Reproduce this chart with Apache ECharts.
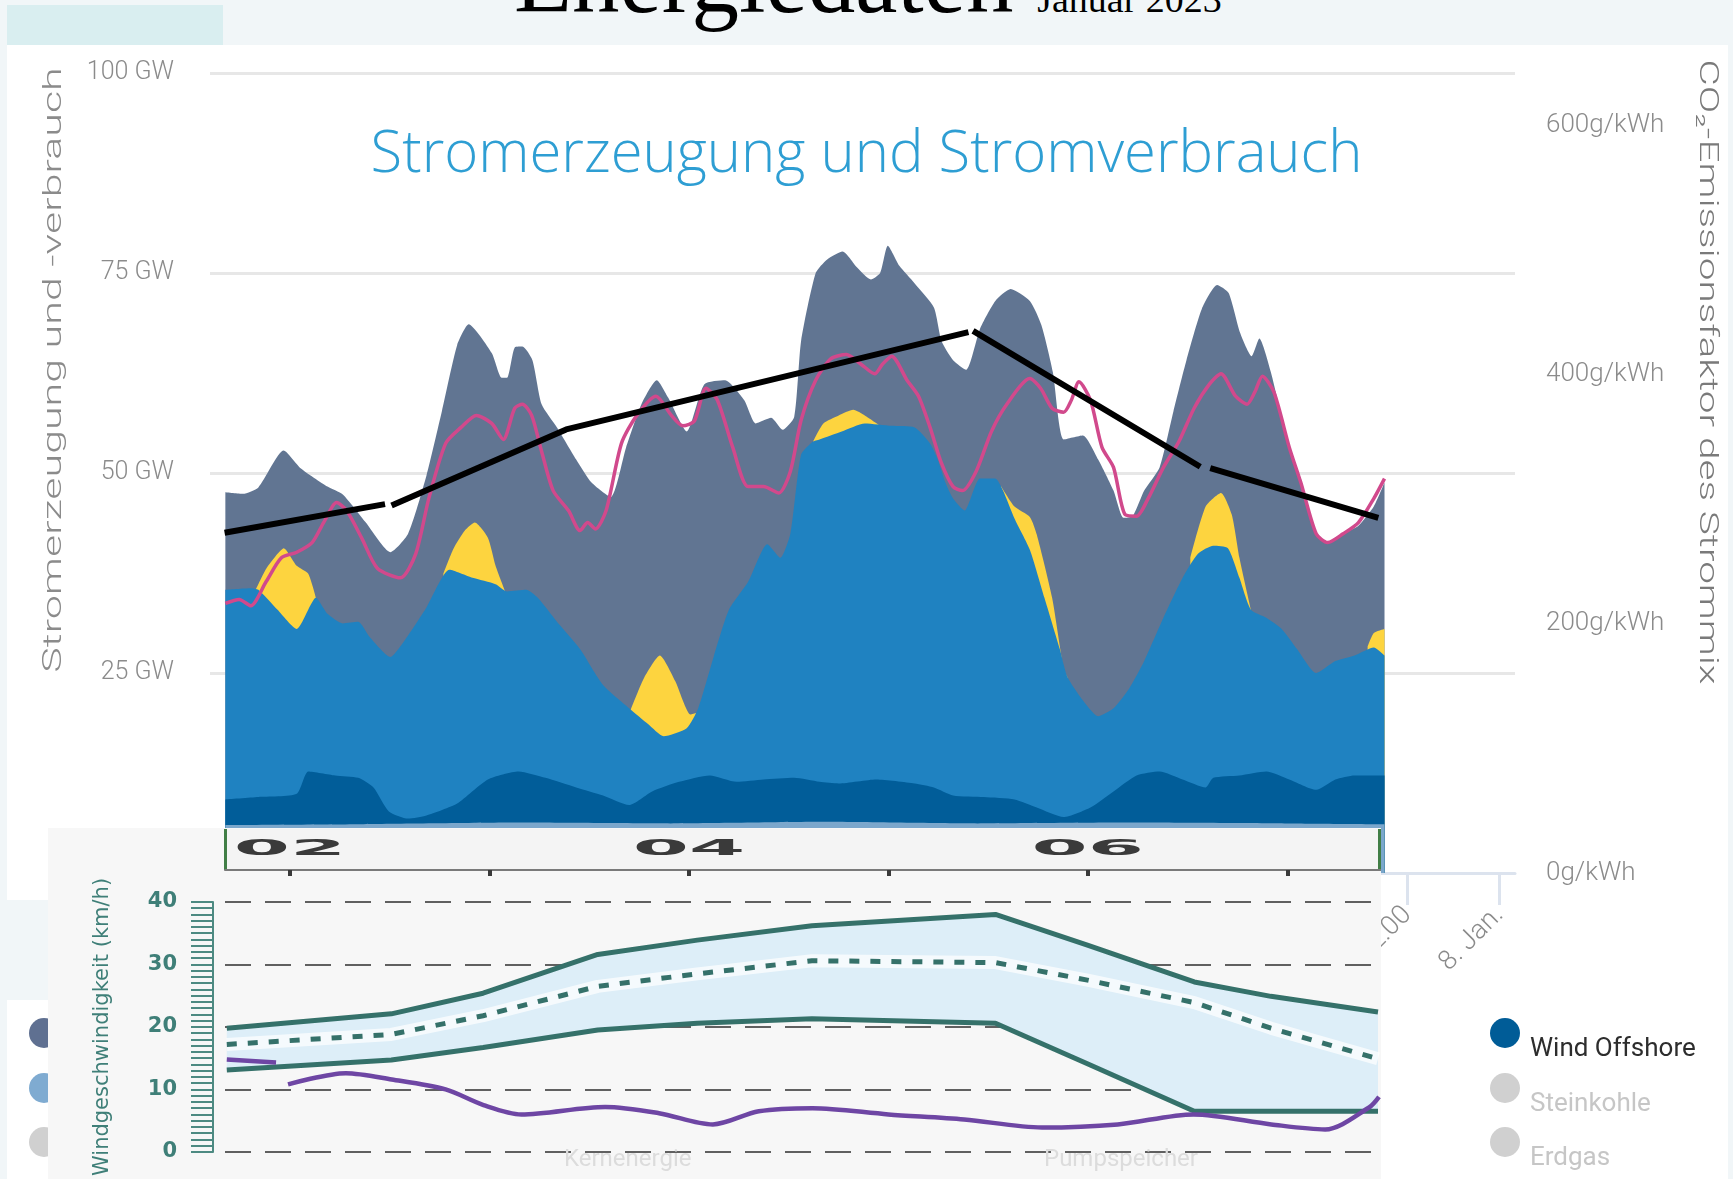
<!DOCTYPE html>
<html lang="de">
<head>
<meta charset="utf-8">
<title>Energiedaten Januar 2023</title>
<script src="https://cdn.jsdelivr.net/npm/echarts@6/dist/echarts.min.js"></script>
<style>
  html, body { margin: 0; padding: 0; width: 1733px; height: 1179px; overflow: hidden; background: #f1f6f8; }
  #kopf { position: absolute; left: 0; top: 0; width: 1733px; height: 45px; background: #f1f6f8; overflow: hidden; }
  #kachel { position: absolute; left: 7px; top: 5px; width: 216px; height: 40px; background: #d9eef0; }
  #titel { position: absolute; left: 514px; top: -67px; font: 95px/95px "Liberation Serif", serif; color: #000; white-space: nowrap; }
  #titel span { font-size: 38px; line-height: 38px; }
  #panel { position: absolute; left: 7px; top: 45px; width: 1721px; height: 1134px; background: #fff; }
  #kerbe { position: absolute; left: 0; top: 900px; width: 48px; height: 100px; background: #f1f6f8; }
  #haupt { position: absolute; left: 0; top: 0; width: 1733px; height: 1179px; }
  #wind { position: absolute; left: 48px; top: 828px; width: 1333px; height: 351px; background: #f7f7f7; }
</style>
</head>
<body>
<div id="kopf"><div id="kachel"></div><div id="titel">Energiedaten <span>Januar 2023</span></div></div>
<div id="panel"></div>
<div id="kerbe"></div>
<div id="haupt"></div>
<div id="wind"></div>
<script>
// Stunden ab 1. Jan. 00:00, Werte in GW (Oberkanten der gestapelten Flächen)
const gesamtLeistung = [[2.0,47.6],[4.3,47.4],[6.3,48.2],[9.6,52.8],[11.8,50.6],[15.3,48.3],[17.3,47.3],[20.3,43.8],[23.5,40.1],[25.8,42.4],[28.2,49.7],[30.2,57.7],[32.2,66.0],[33.7,68.6],[36.7,65.0],[38.0,61.9],[38.7,61.9],[39.7,65.7],[40.7,65.8],[42.0,64.1],[43.2,58.6],[45.2,55.7],[47.7,51.7],[49.7,48.8],[52.2,47.0],[54.2,53.2],[56.2,58.6],[58.2,61.6],[59.7,59.4],[62.1,55.2],[64.4,61.1],[67.1,61.6],[69.6,59.1],[71.1,56.2],[73.1,56.9],[74.6,55.4],[76.1,57.0],[77.0,66.5],[78.9,75.0],[80.4,76.7],[82.4,77.7],[84.3,75.7],[86.1,74.2],[87.3,75.0],[88.3,78.4],[89.8,75.9],[91.8,73.7],[94.3,70.7],[95.3,66.5],[96.8,64.1],[98.5,62.9],[100.3,68.0],[102.3,71.5],[104.3,73.0],[106.8,71.5],[108.3,68.5],[109.8,62.6],[111.2,54.2],[113.7,54.7],[115.7,51.7],[117.7,47.8],[119.0,44.4],[120.2,44.6],[121.7,47.8],[123.7,50.7],[125.5,57.7],[127.2,64.1],[129.2,70.5],[131.2,73.5],[132.7,72.5],[134.2,67.5],[135.7,64.6],[136.7,66.8],[138.2,62.6],[140.2,54.7],[142.1,49.3],[144.1,42.4],[145.6,41.4],[147.6,42.4],[149.6,43.4],[151.6,45.8],[153.0,48.8]];

const solarOberkante = [[6.0,35.5],[7.3,38.0],[8.8,39.9],[9.6,40.6],[11.3,38.4],[12.8,37.4],[13.8,34.4],[14.0,null],
  [30.4,37.4],[31.7,40.5],[33.2,42.8],[34.5,43.8],[36.2,41.9],[37.2,38.4],[38.45,35.2],[38.6,null],
  [54.8,20.4],[56.6,24.5],[58.6,27.2],[60.6,24.0],[62.6,19.8],[63.3,20.0],[63.5,null],
  [78.6,54.0],[79.9,56.2],[81.9,57.2],[83.8,57.9],[85.3,57.2],[87.3,55.9],[87.6,null],
  [103.0,48.4],[104.8,45.8],[106.8,44.5],[107.7,42.3],[109.7,34.4],[111.2,25.5],[111.7,24.5],[111.9,null],
  [127.7,39.4],[129.7,45.8],[131.7,47.5],[133.1,44.8],[134.1,39.4],[135.6,32.9],[135.8,null],
  [150.8,28.3],[151.6,30.0],[153.0,30.5]];

const onshoreOberkante = [[2.0,35.4],[5.3,35.6],[6.3,35.4],[8.8,32.9],[11.3,30.5],[13.8,34.4],[15.3,32.4],[17.3,31.2],[19.3,31.4],[20.8,29.5],[23.5,27.0],[25.3,29.0],[28.2,33.2],[31.2,37.9],[34.2,36.9],[37.2,36.1],[38.7,35.2],[41.2,35.4],[42.7,34.4],[45.2,31.4],[48.2,28.0],[51.2,23.5],[54.6,20.6],[57.1,18.6],[59.1,17.1],[62.1,18.1],[63.6,20.6],[65.6,27.0],[67.6,32.9],[70.1,36.4],[72.6,41.1],[74.3,39.4],[75.6,42.4],[77.0,52.3],[78.5,53.9],[79.4,54.2],[82.3,55.2],[85.3,56.2],[88.8,55.9],[91.8,55.7],[93.8,53.7],[94.8,51.7],[95.8,48.8],[96.8,46.8],[98.3,45.3],[100.3,49.3],[102.3,49.3],[103.3,47.8],[104.8,44.3],[106.8,40.4],[108.7,34.4],[110.7,28.0],[111.7,24.5],[113.7,21.6],[115.7,19.6],[117.7,20.6],[119.7,23.0],[121.7,26.5],[124.2,31.9],[126.7,36.9],[128.7,39.9],[130.7,40.9],[132.6,40.6],[134.1,36.9],[135.6,32.9],[137.6,31.9],[139.6,30.5],[141.6,28.0],[144.1,25.0],[146.6,26.5],[149.1,27.2],[151.6,28.2],[153.0,27.2]];

const offshoreOberkante = [[2.0,9.2],[6.3,9.5],[11.3,9.9],[12.8,12.7],[16.3,12.2],[19.3,11.9],[21.3,10.7],[23.3,7.7],[25.8,6.8],[28.2,7.2],[32.2,8.7],[36.2,11.7],[40.2,12.7],[43.7,11.9],[47.7,10.7],[51.2,9.7],[54.6,8.5],[57.6,10.2],[61.1,11.4],[65.1,12.2],[68.6,11.4],[72.1,11.7],[76.1,11.9],[79.4,11.4],[81.9,11.2],[86.8,11.7],[91.8,11.2],[94.3,10.7],[96.8,9.7],[100.8,9.5],[104.8,9.2],[107.7,8.2],[111.2,7.0],[114.7,8.2],[117.7,10.2],[120.7,12.2],[123.7,12.7],[126.7,11.7],[129.7,10.7],[130.7,11.9],[134.1,12.2],[137.6,12.7],[140.6,11.7],[144.1,10.4],[146.6,11.7],[149.1,12.2],[153.0,12.2]];

const basisOberkante = [[2.0,6.0],[20.0,6.1],[40.0,6.3],[60.0,6.2],[80.0,6.4],[100.0,6.2],[120.0,6.3],[140.0,6.2],[153.0,6.1]];

const verbrauch = [[2.0,33.7],[3.8,34.2],[5.3,33.4],[7.3,36.4],[9.3,39.4],[11.3,40.1],[13.3,41.3],[14.8,43.8],[16.5,46.3],[17.8,45.3],[19.8,41.8],[21.8,38.1],[24.8,36.9],[26.8,39.9],[28.5,46.8],[30.7,53.7],[32.7,55.7],[34.7,57.2],[36.7,56.2],[38.2,54.2],[39.7,58.1],[40.7,58.6],[41.9,57.2],[43.2,52.7],[44.7,47.8],[46.7,45.3],[48.2,42.8],[49.2,43.8],[50.2,43.0],[51.6,45.3],[53.6,53.7],[55.6,57.2],[58.1,59.6],[60.1,57.2],[61.6,55.9],[63.1,56.5],[64.6,60.6],[66.1,59.1],[68.1,53.2],[70.1,48.3],[72.1,48.3],[74.1,47.5],[75.6,50.2],[77.0,56.6],[78.9,61.6],[80.9,64.3],[82.9,64.8],[84.8,63.6],[86.6,62.4],[87.6,63.6],[88.8,64.6],[90.8,61.6],[92.3,59.6],[93.8,55.7],[95.3,51.2],[96.8,48.3],[98.0,47.8],[99.8,50.2],[101.8,55.2],[103.8,58.6],[106.8,61.8],[108.2,60.6],[109.7,58.1],[111.2,57.6],[112.2,59.1],[113.2,61.4],[114.7,59.1],[116.2,53.2],[117.7,50.7],[119.2,44.8],[120.7,44.6],[122.2,46.8],[124.2,50.7],[126.2,53.9],[128.2,58.1],[130.2,61.1],[131.7,62.4],[133.6,59.6],[135.1,58.6],[136.1,60.1],[137.1,62.1],[138.6,60.1],[140.6,53.2],[142.1,48.8],[144.1,42.4],[145.6,41.3],[147.6,42.4],[149.6,43.8],[151.6,46.8],[153.0,49.3]];

// CO2-Faktor in g/kWh (rechte Achse), Lücken zwischen den Abschnitten
const co2Faktor = [[1.9,273],[22.8,296],[23.2,null],[23.65,295],[46.4,356],[98.8,434],[99.1,null],[99.4,435],[129.0,326],[129.6,null],[130.3,325],[152.2,285]];

const tickStunden = [12,24,36,48,60,72,84,96,108,120,132,144,156,168];
const co2Ticks = [0,200,400,600];

// Windgeschwindigkeit (km/h), x in Tagen
const windTage  = [1.683, 2.508, 2.968, 3.543, 4.042, 4.617, 5.537, 5.998, 6.534, 6.918, 7.455];
const windOben  = [19.8, 22.1, 25.4, 31.6, 33.9, 36.2, 38.0, 33.1, 27.2, 24.9, 22.4];
const windMitte = [17.2, 18.8, 21.8, 26.5, 28.5, 30.6, 30.3, 27.5, 23.9, 19.8, 14.9];
const windUnten = [13.1, 14.7, 16.7, 19.5, 20.6, 21.3, 20.6, 14.1, 6.5, 6.5, 6.5];
const windViolett = [[1.683,14.8],[1.93,14.3],[1.96,null],[1.99,10.8],[2.28,12.6],[2.51,11.6],[2.78,10.0],[2.97,7.5],[3.16,6.0],[3.58,7.2],[3.85,6.2],[4.12,4.4],[4.35,6.5],[4.62,7.0],[5.0,6.0],[5.38,5.2],[5.77,3.9],[6.15,4.4],[6.53,6.0],[6.92,4.4],[7.19,3.6],[7.41,7.1],[7.46,8.8]];
const windTicks = [2,3,4,5,6,7];
const streifenTage = [2,4,6];

const schrift = 'Roboto, "Noto Sans", sans-serif';
const grau = '#8b8b8b';

function flaeche(name, data, farbe) {
  return {
    type: 'line', name, data, smooth: 0.2, symbol: 'none',
    lineStyle: { width: 0 }, itemStyle: { color: farbe },
    areaStyle: { color: farbe, opacity: 1 }
  };
}

const haupt = echarts.init(document.getElementById('haupt'));
haupt.setOption({
  animation: false,
  title: {
    text: 'Stromerzeugung und Stromverbrauch', left: 'center', top: 121,
    textStyle: { fontFamily: '"Open Sans", sans-serif', fontWeight: 300, fontSize: 58, color: '#2e9ed3' }
  },
  grid: { left: 210, top: 73, width: 1305, height: 800 },
  xAxis: {
    type: 'value', min: 0, max: 170, splitLine: { show: false },
    axisLine: { lineStyle: { color: '#dce3ee', width: 3 } },
    axisTick: { customValues: tickStunden, length: 32, lineStyle: { color: '#dce3ee', width: 3 } },
    axisLabel: {
      customValues: tickStunden, rotate: 45, margin: 38, color: grau,
      fontFamily: schrift, fontWeight: 300, fontSize: 27,
      formatter: h => (h % 24 === 0 ? (h / 24 + 1) + '. Jan.' : '12:00')
    }
  },
  yAxis: [{
    type: 'value', min: 0, max: 100, interval: 25,
    axisLine: { show: false }, axisTick: { show: false },
    splitLine: { lineStyle: { color: '#e7e7e7', width: 3 } },
    axisLabel: { formatter: '{value} GW', margin: 36, color: grau, fontFamily: schrift, fontWeight: 300, fontSize: 25 }
  }, {
    type: 'value', position: 'right', min: 0, max: 642,
    axisLine: { show: false }, axisTick: { show: false }, splitLine: { show: false },
    axisLabel: { customValues: co2Ticks, formatter: '{value}g/kWh', margin: 31, color: grau, fontFamily: schrift, fontWeight: 300, fontSize: 26 }
  }],
  series: [
    flaeche('Konventionell', gesamtLeistung, '#617592'),
    flaeche('Photovoltaik', solarOberkante, '#fdd43f'),
    flaeche('Wind Onshore', onshoreOberkante, '#1f82c1'),
    flaeche('Wind Offshore', offshoreOberkante, '#015d99'),
    flaeche('Wasserkraft', basisOberkante, '#7ba7cc'),
    { type: 'line', name: 'Stromverbrauch', data: verbrauch, smooth: 0.25, symbol: 'none',
      lineStyle: { color: '#d1498c', width: 3.5 }, z: 5 },
    { type: 'line', name: 'CO₂-Emissionsfaktor', yAxisIndex: 1, data: co2Faktor, symbol: 'none',
      lineStyle: { color: '#000', width: 6 }, z: 6 }
  ],
  graphic: [
    { type: 'text', x: 55, y: 370, rotation: Math.PI / 2, scaleX: 1.72,
      style: { text: 'Stromerzeugung und -verbrauch', fontFamily: schrift, fontWeight: 300, fontSize: 25, fill: grau, align: 'center', verticalAlign: 'middle' } },
    { type: 'text', x: 1706, y: 372, rotation: -Math.PI / 2, scaleX: 1.62,
      style: { text: 'CO₂-Emissionsfaktor des Strommix', fontFamily: schrift, fontWeight: 300, fontSize: 25, fill: '#7a7a7a', align: 'center', verticalAlign: 'middle' } },
    { type: 'circle', shape: { cx: 44, cy: 1033, r: 15 }, style: { fill: '#5f7091' } },
    { type: 'circle', shape: { cx: 44, cy: 1088, r: 15 }, style: { fill: '#7fabd1' } },
    { type: 'circle', shape: { cx: 44, cy: 1142, r: 15 }, style: { fill: '#d0d0d0' } },
    { type: 'circle', shape: { cx: 1505, cy: 1033, r: 15 }, style: { fill: '#005c97' } },
    { type: 'circle', shape: { cx: 1505, cy: 1088, r: 15 }, style: { fill: '#d0d0d0' } },
    { type: 'circle', shape: { cx: 1505, cy: 1142, r: 15 }, style: { fill: '#d0d0d0' } },
    { type: 'text', x: 1530, y: 1049, style: { text: 'Wind Offshore', fontFamily: schrift, fontSize: 26, fill: '#2d2d2d', verticalAlign: 'middle' } },
    { type: 'text', x: 1530, y: 1104, style: { text: 'Steinkohle', fontFamily: schrift, fontSize: 26, fill: '#c6c6c6', verticalAlign: 'middle' } },
    { type: 'text', x: 1530, y: 1158, style: { text: 'Erdgas', fontFamily: schrift, fontSize: 26, fill: '#c6c6c6', verticalAlign: 'middle' } }
  ]
});

// eingeblendete Windgeschwindigkeits-Grafik
const teal = '#35716a';
const tealHell = '#4d8a82';
const paare = werte => windTage.map((t, i) => [t, werte[i]]);

const wind = echarts.init(document.getElementById('wind'));
wind.setOption({
  animation: false,
  grid: { left: 177, top: 74, width: 1156, height: 260 },
  xAxis: {
    type: 'value', position: 'top', offset: 32, min: 1.674, max: 7.47, z: 5,
    splitLine: { show: false },
    axisLine: { onZero: false, lineStyle: { color: '#7a7a7a', width: 2 } },
    axisTick: { customValues: windTicks, inside: true, length: 6, lineStyle: { color: '#3a3a3a', width: 4 } },
    axisLabel: { show: false }
  },
  yAxis: {
    type: 'value', min: 0, max: 40, interval: 10, offset: 12,
    name: 'Windgeschwindigkeit (km/h)', nameLocation: 'middle', nameGap: 100,
    nameTextStyle: { color: '#3f7f78', fontFamily: '"DejaVu Sans", sans-serif', fontSize: 21 },
    axisLine: { show: true, onZero: false, lineStyle: { color: tealHell, width: 2 } },
    axisTick: { show: true, length: 22, lineStyle: { color: tealHell, width: 2 } },
    minorTick: { show: true, splitNumber: 10, length: 22, lineStyle: { color: tealHell, width: 2 } },
    axisLabel: { margin: 36, color: '#3f7f78', fontFamily: '"DejaVu Sans", sans-serif', fontWeight: 'bold', fontSize: 21 },
    splitLine: { lineStyle: { type: [26, 14], color: '#606060', width: 2 } }
  },
  series: [
    { // Band zwischen Minimum und Maximum
      type: 'custom', silent: true, clip: true, z: 1, data: [0],
      renderItem: (params, api) => {
        const oben = windTage.map((t, i) => api.coord([t, windOben[i]]));
        const unten = windTage.map((t, i) => api.coord([t, windUnten[i]])).reverse();
        return { type: 'polygon', shape: { points: oben.concat(unten) }, style: { fill: '#ddeef8' } };
      }
    },
    { type: 'line', data: paare(windMitte), symbol: 'none', silent: true,
      lineStyle: { color: 'rgba(255,255,255,0.7)', width: 13 } },
    { type: 'line', name: 'Maximum', data: paare(windOben), symbol: 'none', lineStyle: { color: teal, width: 5 } },
    { type: 'line', name: 'Mittel', data: paare(windMitte), symbol: 'none', lineStyle: { color: teal, width: 5, type: [10, 11] } },
    { type: 'line', name: 'Minimum', data: paare(windUnten), symbol: 'none', lineStyle: { color: teal, width: 5 } },
    { type: 'line', name: 'Wind', data: windViolett, smooth: 0.3, symbol: 'none', lineStyle: { color: '#6e46a4', width: 4.5 } }
  ]
});

const streifenText = streifenTage.map(t => ({
  type: 'text', z: 10,
  x: wind.convertToPixel({ xAxisIndex: 0 }, t), y: 22, scaleX: 3.85,
  style: { text: String(t).padStart(2, '0'), fontFamily: '"DejaVu Sans", sans-serif', fontWeight: 'bold', fontSize: 21,
    fill: '#3a3a3a', align: 'center', verticalAlign: 'middle' }
}));

wind.setOption({
  graphic: [
    { type: 'rect', z: 1, shape: { x: 176, y: 1, width: 1157, height: 40 }, style: { fill: '#f4f4f4' } },
    { type: 'line', z: 2, shape: { x1: 177.5, y1: 1, x2: 177.5, y2: 42 }, style: { stroke: '#417e46', lineWidth: 3 } },
    { type: 'line', z: 2, shape: { x1: 1331.5, y1: 1, x2: 1331.5, y2: 42 }, style: { stroke: '#417e46', lineWidth: 3 } },
    { type: 'text', z: 0, x: 516, y: 332, style: { text: 'Kernenergie', fontFamily: schrift, fontSize: 24, fill: '#dcdcdc', verticalAlign: 'middle' } },
    { type: 'text', z: 0, x: 996, y: 332, style: { text: 'Pumpspeicher', fontFamily: schrift, fontSize: 24, fill: '#dcdcdc', verticalAlign: 'middle' } },
    ...streifenText
  ]
});
</script>
</body>
</html>
